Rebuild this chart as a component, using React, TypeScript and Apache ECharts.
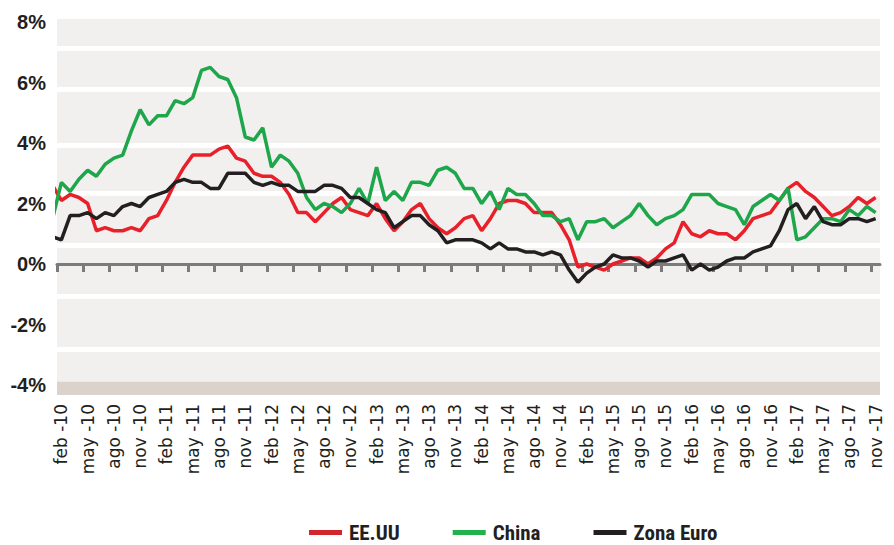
import React, { useEffect, useRef } from "react";
import * as echarts from "echarts";

// Month names (Spanish) used to build the category labels
const MONTHS = ["ene", "feb", "mar", "abr", "may", "jun", "jul", "ago", "sep", "oct", "nov", "dic"];
const START_YEAR = 2010;
const START_MONTH = 1; // feb
const COUNT = 94; // feb-10 .. nov-17

const categories: string[] = Array.from({ length: COUNT }, (_, i) => {
  const m = (START_MONTH + i) % 12;
  const y = START_YEAR + Math.floor((START_MONTH + i) / 12);
  return `${MONTHS[m]} -${String(y % 100).padStart(2, "0")}`;
});

// Series values, from ene-10 (partly visible at the left edge) to nov-17, in %
const eeuu = [
  2.6, 2.1, 2.3, 2.2, 2.0, 1.1, 1.2, 1.1, 1.1, 1.2, 1.1, 1.5,
  1.6, 2.1, 2.7, 3.2, 3.6, 3.6, 3.6, 3.8, 3.9, 3.5, 3.4, 3.0,
  2.9, 2.9, 2.7, 2.3, 1.7, 1.7, 1.4, 1.7, 2.0, 2.2, 1.8, 1.7,
  1.6, 2.0, 1.5, 1.1, 1.4, 1.8, 2.0, 1.5, 1.2, 1.0, 1.2, 1.5,
  1.6, 1.1, 1.5, 2.0, 2.1, 2.1, 2.0, 1.7, 1.7, 1.7, 1.3, 0.8,
  -0.1, 0.0, -0.1, -0.2, 0.0, 0.1, 0.2, 0.2, 0.0, 0.2, 0.5, 0.7,
  1.4, 1.0, 0.9, 1.1, 1.0, 1.0, 0.8, 1.1, 1.5, 1.6, 1.7, 2.1,
  2.5, 2.7, 2.4, 2.2, 1.9, 1.6, 1.7, 1.9, 2.2, 2.0, 2.2,
];
const china = [
  1.5, 2.7, 2.4, 2.8, 3.1, 2.9, 3.3, 3.5, 3.6, 4.4, 5.1, 4.6,
  4.9, 4.9, 5.4, 5.3, 5.5, 6.4, 6.5, 6.2, 6.1, 5.5, 4.2, 4.1,
  4.5, 3.2, 3.6, 3.4, 3.0, 2.2, 1.8, 2.0, 1.9, 1.7, 2.0, 2.5,
  2.0, 3.2, 2.1, 2.4, 2.1, 2.7, 2.7, 2.6, 3.1, 3.2, 3.0, 2.5,
  2.5, 2.0, 2.4, 1.8, 2.5, 2.3, 2.3, 2.0, 1.6, 1.6, 1.4, 1.5,
  0.8, 1.4, 1.4, 1.5, 1.2, 1.4, 1.6, 2.0, 1.6, 1.3, 1.5, 1.6,
  1.8, 2.3, 2.3, 2.3, 2.0, 1.9, 1.8, 1.3, 1.9, 2.1, 2.3, 2.1,
  2.5, 0.8, 0.9, 1.2, 1.5, 1.5, 1.4, 1.8, 1.6, 1.9, 1.7,
];
const zonaEuro = [
  0.9, 0.8, 1.6, 1.6, 1.7, 1.5, 1.7, 1.6, 1.9, 2.0, 1.9, 2.2,
  2.3, 2.4, 2.7, 2.8, 2.7, 2.7, 2.5, 2.5, 3.0, 3.0, 3.0, 2.7,
  2.6, 2.7, 2.6, 2.6, 2.4, 2.4, 2.4, 2.6, 2.6, 2.5, 2.2, 2.2,
  2.0, 1.8, 1.7, 1.2, 1.4, 1.6, 1.6, 1.3, 1.1, 0.7, 0.8, 0.8,
  0.8, 0.7, 0.5, 0.7, 0.5, 0.5, 0.4, 0.4, 0.3, 0.4, 0.3, -0.2,
  -0.6, -0.3, -0.1, 0.0, 0.3, 0.2, 0.2, 0.1, -0.1, 0.1, 0.1, 0.2,
  0.3, -0.2, 0.0, -0.2, -0.1, 0.1, 0.2, 0.2, 0.4, 0.5, 0.6, 1.1,
  1.8, 2.0, 1.5, 1.9, 1.4, 1.3, 1.3, 1.5, 1.5, 1.4, 1.5,
];

const yTickLabels = [-4, -2, 0, 2, 4, 6, 8];
const Y_MIN = -4.33;
const Y_MAX = 8.1;
// decorative white gaps and bottom band of the plot background (in axis units)
const whiteGaps = [7.14, 5.77, 3.93, 2.33, 0.61, -1.06, -2.83];
const footBand = [-4.33, -3.89];

const SERIES = [
  { name: "EE.UU", values: eeuu, color: "#e8202a", legendColor: "#d3262c" },
  { name: "China", values: china, color: "#1da64a", legendColor: "#22b14c" },
  { name: "Zona Euro", values: zonaEuro, color: "#231f20", legendColor: "#231f20" },
];

export default function App() {
  const ref = useRef<HTMLDivElement>(null);

  useEffect(() => {
    if (!ref.current) return;
    const chart = echarts.init(ref.current, undefined, { renderer: "svg" });

    const tickValues: number[] = [];
    for (let i = 0; i < COUNT; i += 3) tickValues.push(i - 0.5);

    const option: any = {
      animation: false,
      backgroundColor: "#ffffff",
      grid: {
        left: 57,
        top: 19,
        width: 823,
        height: 376,
        show: true,
        backgroundColor: "#f1f0ef",
        borderWidth: 0,
      },
      legend: {
        data: SERIES.map((s) => ({ name: s.name, itemStyle: { color: s.legendColor } })),
        left: 309,
        top: 522,
        icon: "rect",
        itemWidth: 33,
        itemHeight: 5,
        itemGap: 53,
        padding: 0,
        selectedMode: false,
        textStyle: {
          fontFamily: "'Liberation Sans Narrow', 'Roboto Condensed', 'Roboto', sans-serif",
          fontWeight: "bold",
          fontSize: 21,
          color: "#231f20",
          padding: [0, 0, 0, 2],
        },
      },
      xAxis: [
        {
          type: "category",
          data: categories,
          boundaryGap: true,
          position: "bottom",
          axisLine: { show: false, onZero: false },
          axisTick: { show: false },
          splitLine: { show: false },
          axisLabel: {
            interval: 2,
            rotate: 90,
            margin: 9,
            fontFamily: "'DejaVu Sans', sans-serif",
            fontSize: 17,
            color: "#231f20",
          },
        },
        {
          type: "value",
          min: -0.5,
          max: COUNT - 0.5,
          position: "bottom",
          axisLine: { show: true, onZero: true, lineStyle: { color: "#7b7b7b", width: 3 } },
          axisTick: {
            show: true,
            customValues: tickValues,
            length: 8,
            lineStyle: { color: "#7b7b7b", width: 3 },
          },
          axisLabel: { show: false },
          splitLine: { show: false },
        },
      ],
      yAxis: {
        type: "value",
        min: Y_MIN,
        max: Y_MAX,
        axisLine: { show: false },
        axisTick: { show: false },
        splitLine: { show: false },
        axisLabel: {
          customValues: yTickLabels,
          formatter: (v: number) => `${v}%`,
          margin: 11,
          fontFamily: "'Liberation Sans', Arial, sans-serif",
          fontWeight: "bold",
          fontSize: 20,
          color: "#231f20",
        },
      },
      series: [
        {
          type: "line",
          xAxisIndex: 1,
          data: [],
          z: 1,
          zlevel: 0,
          silent: true,
          markArea: {
            silent: true,
            z: 1,
            itemStyle: { color: "#dbd2cc" },
            data: [[{ yAxis: footBand[0] }, { yAxis: footBand[1] }]],
          },
          markLine: {
            silent: true,
            z: 1,
            symbol: ["none", "none"],
            label: { show: false },
            lineStyle: { color: "#ffffff", width: 5, type: "solid" },
            data: whiteGaps.map((v) => ({ yAxis: v })),
          },
        },
        ...SERIES.map((s) => ({
          name: s.name,
          type: "line",
          xAxisIndex: 1,
          z: 10,
          symbol: "none",
          clip: true,
          lineStyle: { width: 3.5, color: s.color },
          itemStyle: { color: s.color },
          data: s.values.map((v, i) => [i - 1, v]),
        })),
      ],
    };

    chart.setOption(option);
    return () => chart.dispose();
  }, []);

  return (
    <div
      ref={ref}
      style={{ position: "fixed", left: 0, top: 0, width: 894, height: 545, background: "#fff" }}
    />
  );
}
